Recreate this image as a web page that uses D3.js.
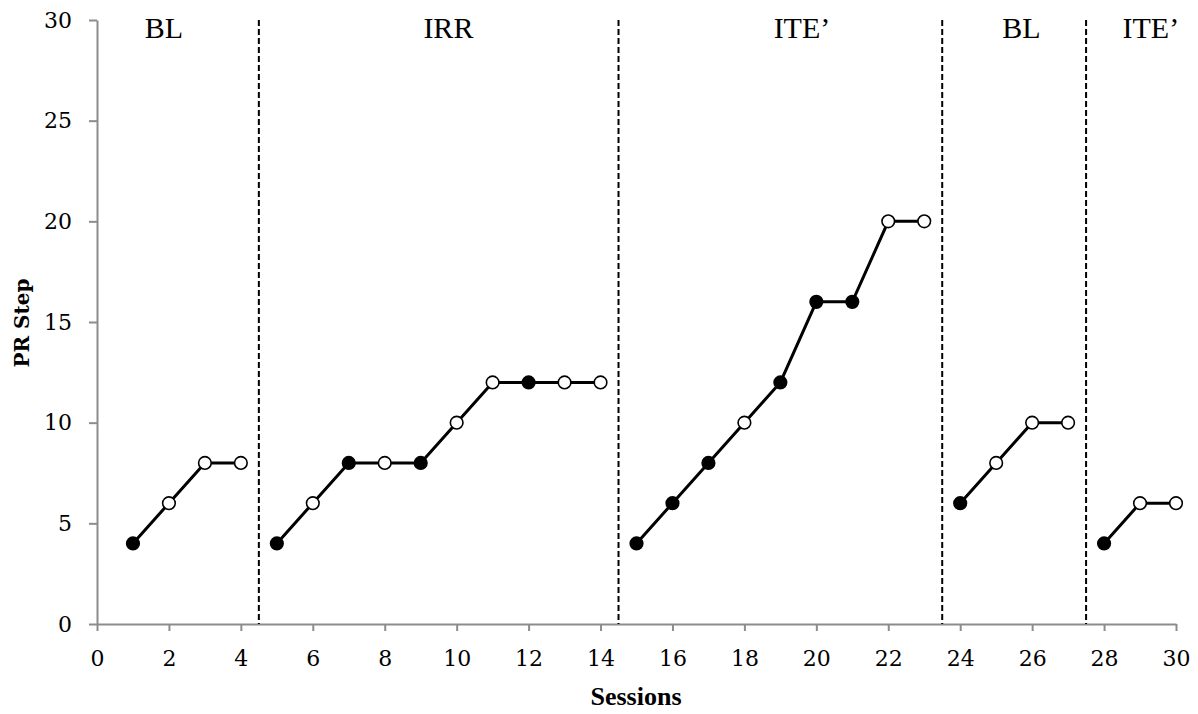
<!DOCTYPE html>
<html>
<head>
<meta charset="utf-8">
<script src="https://cdn.jsdelivr.net/npm/d3@7"></script>
<style>
  body { margin: 0; background: #fff; }
</style>
</head>
<body>
<div id="chart-area"></div>
<script>
// data: each phase is one line segment
var phaseNames = ["BL", "IRR", "ITE\u2019", "BL", "ITE\u2019"];
var phaseLabelAt = [1.86, 9.77, 19.6, 25.7, 29.3];
var phaseLines = [4.5, 14.5, 23.5, 27.5];

var sessions = [
    [1, 2, 3, 4],
    [5, 6, 7, 8, 9, 10, 11, 12, 13, 14],
    [15, 16, 17, 18, 19, 20, 21, 22, 23],
    [24, 25, 26, 27],
    [28, 29, 30]
];
var prStep = [
    [4, 6, 8, 8],
    [4, 6, 8, 8, 8, 10, 12, 12, 12, 12],
    [4, 6, 8, 10, 12, 16, 16, 20, 20],
    [6, 8, 10, 10],
    [4, 6, 6]
];
// 1 = filled marker, 0 = open marker
var filled = [
    [1, 0, 0, 0],
    [1, 0, 1, 0, 1, 0, 0, 1, 0, 0],
    [1, 1, 1, 0, 1, 1, 1, 0, 0],
    [1, 0, 0, 0],
    [1, 0, 0]
];
var xTicks = d3.range(0, 31, 2);
var yTicks = [0, 5, 10, 15, 20, 25, 30];

var width = 1198;
var height = 714;
var margin = {left: 97, right: 22, top: 20, bottom: 90};

var svg = d3.select("#chart-area")
    .append("svg")
    .attr("width", width)
    .attr("height", height);

var x = d3.scaleLinear()
    .domain([0, 30])
    .range([margin.left, width - margin.right]);

var y = d3.scaleLinear()
    .domain([0, 30])
    .range([height - margin.bottom, margin.top]);

var serif = "'Liberation Serif', 'DejaVu Serif', serif";
var tickFont = "'DejaVu Serif', serif";

// axes
var xAxisGroup = svg.append("g")
    .attr("transform", "translate(0," + y(0) + ")")
    .call(d3.axisBottom(x).tickValues(xTicks).tickSize(7).tickPadding(19).tickSizeOuter(0));

var yAxisGroup = svg.append("g")
    .attr("transform", "translate(" + x(0) + ",0)")
    .call(d3.axisLeft(y).tickValues(yTicks).tickSize(8).tickPadding(17).tickSizeOuter(0));

[xAxisGroup, yAxisGroup].forEach(function(ax) {
    ax.select(".domain").attr("stroke", "#8c8c8c").attr("stroke-width", 2);
    ax.selectAll(".tick line").attr("stroke", "#8c8c8c").attr("stroke-width", 2);
    ax.selectAll(".tick text")
        .attr("fill", "#000")
        .attr("font-family", tickFont)
        .attr("font-size", "22px");
});

// phase change lines
svg.selectAll(".phase-line")
    .data(phaseLines)
    .enter()
    .append("line")
    .attr("class", "phase-line")
    .attr("x1", function(d) { return x(d); })
    .attr("x2", function(d) { return x(d); })
    .attr("y1", y(30))
    .attr("y2", y(0))
    .attr("stroke", "#000")
    .attr("stroke-width", 2)
    .attr("stroke-dasharray", "6,3");

// phase labels
svg.selectAll(".phase-label")
    .data(phaseNames)
    .enter()
    .append("text")
    .attr("class", "phase-label")
    .attr("x", function(d, i) { return x(phaseLabelAt[i]); })
    .attr("y", 38)
    .attr("text-anchor", "middle")
    .attr("font-family", serif)
    .attr("font-size", "30px")
    .text(function(d) { return d; });

var line = d3.line()
    .x(function(d) { return x(d.s); })
    .y(function(d) { return y(d.v); });

sessions.forEach(function(ss, i) {
    var pts = ss.map(function(s, j) {
        return {s: s, v: prStep[i][j], f: filled[i][j]};
    });

    svg.append("path")
        .datum(pts)
        .attr("d", line)
        .attr("fill", "none")
        .attr("stroke", "#000")
        .attr("stroke-width", 3);

    svg.append("g")
        .selectAll("circle")
        .data(pts)
        .enter()
        .append("circle")
        .attr("cx", function(d) { return x(d.s); })
        .attr("cy", function(d) { return y(d.v); })
        .attr("r", 6.3)
        .attr("fill", function(d) { return d.f ? "#000" : "#fff"; })
        .attr("stroke", "#000")
        .attr("stroke-width", 1.6);
});

// axis titles
svg.append("text")
    .attr("x", 636)
    .attr("y", 705)
    .attr("text-anchor", "middle")
    .attr("font-family", serif)
    .attr("font-weight", "bold")
    .attr("font-size", "26px")
    .text("Sessions");

svg.append("text")
    .attr("transform", "rotate(-90)")
    .attr("x", -323)
    .attr("y", 29)
    .attr("text-anchor", "middle")
    .attr("font-family", tickFont)
    .attr("font-weight", "bold")
    .attr("font-size", "20px")
    .text("PR Step");
</script>
</body>
</html>
